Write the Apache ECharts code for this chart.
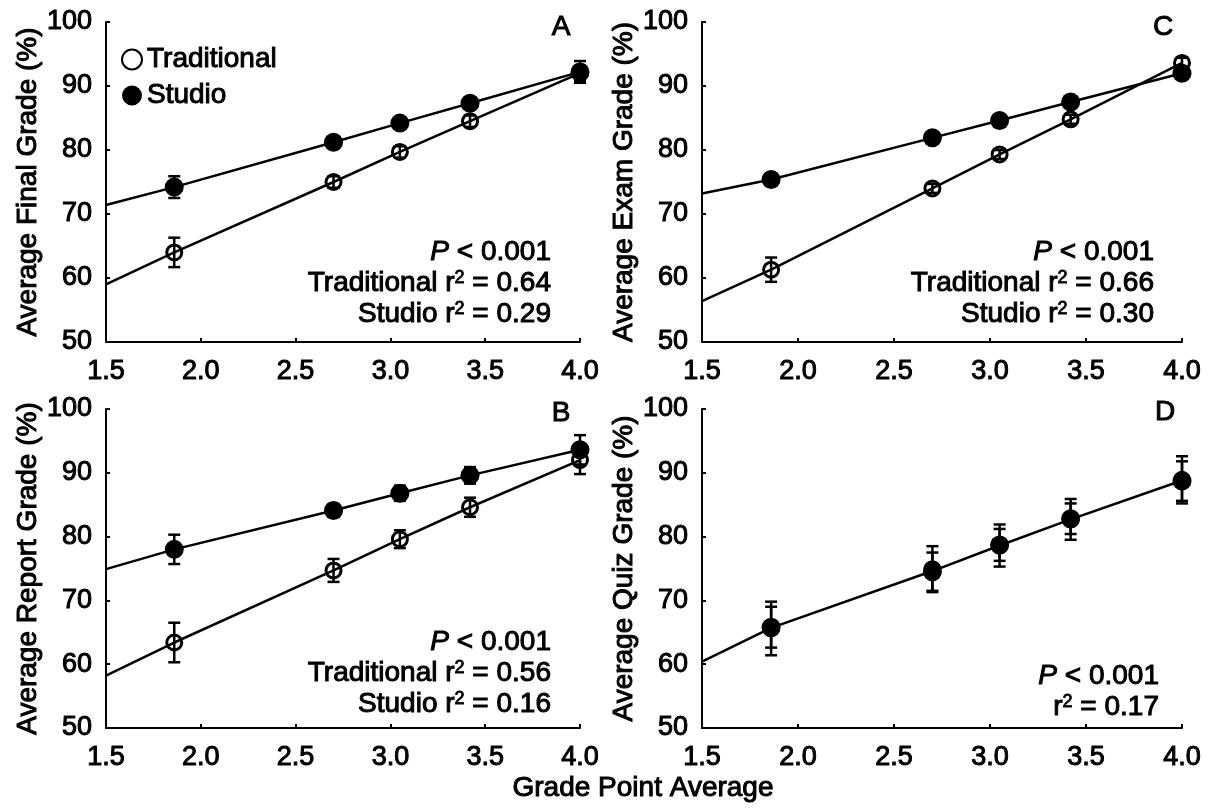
<!DOCTYPE html>
<html>
<head>
<meta charset="utf-8">
<script src="https://cdn.jsdelivr.net/npm/echarts@6/dist/echarts.min.js"></script>
<style>
  html, body { margin: 0; padding: 0; background: #fff; }
  #chart { width: 1217px; height: 809px; }
</style>
</head>
<body>
<div id="chart"></div>
<script>
// Grade point average groups (x positions of the group means)
const gpa = [1.86, 2.70, 3.05, 3.42, 4.00];
// Left end of the fitted lines
const fitStartGpa = 1.5;

// Panel A: final grade
const finalTrad = [64.0, 75.0, 79.7, 84.5, 92.0];
const finalTradErr = [2.3, 0.9, 0.9, 0.9, 1.2];
const finalStudio = [74.2, 81.2, 84.2, 87.3, 92.2];
const finalStudioErr = [1.7, 0.8, 0.8, 0.8, 1.7];
const finalTradStart = 59.0;
const finalStudioStart = 71.4;

// Panel C: exam grade
const examTrad = [61.3, 74.0, 79.3, 84.8, 93.6];
const examTradErr = [1.9, 0.7, 0.7, 0.7, 0.8];
const examStudio = [75.4, 81.9, 84.6, 87.5, 92.0];
const examStudioErr = [0.9, 0.8, 0.7, 0.7, 0.8];
const examTradStart = 56.4;
const examStudioStart = 73.2;

// Panel B: report grade
const reportTrad = [63.4, 74.7, 79.6, 84.6, 92.0];
const reportTradErr = [3.1, 1.8, 1.4, 1.5, 2.2];
const reportStudio = [78.0, 84.1, 86.8, 89.6, 93.6];
const reportStudioErr = [2.3, 1.0, 1.2, 1.3, 2.3];
const reportTradStart = 58.2;
const reportStudioStart = 74.9;

// Panel D: quiz grade (both groups share one fitted line)
const quizTrad = [65.6, 74.9, 78.6, 82.7, 88.9];
const quizTradErr = [4.2, 3.6, 3.3, 3.2, 3.7];
const quizStudio = [65.8, 74.5, 78.7, 82.8, 88.7];
const quizStudioErr = [3.2, 3.0, 2.5, 2.4, 3.1];
const quizFit = [60.4, 65.7, 74.6, 78.6, 82.7, 88.8];

// Axis ranges and tick spacing
const xMin = 1.5, xMax = 4.0, xStep = 0.5;
const yMin = 50, yMax = 100, yStep = 10;

// Panel captions
const panelLetters = ['A', 'C', 'B', 'D'];
const yTitles = ['Average Final Grade (%)', 'Average Exam Grade (%)',
                 'Average Report Grade (%)', 'Average Quiz Grade (%)'];
const xTitle = 'Grade Point Average';
const pText = '{i|P} < 0.001';
const statLines = [
  ['Traditional r{s|2} = 0.64', 'Studio r{s|2} = 0.29'],
  ['Traditional r{s|2} = 0.66', 'Studio r{s|2} = 0.30'],
  ['Traditional r{s|2} = 0.56', 'Studio r{s|2} = 0.16'],
  ['r{s|2} = 0.17']
];

const FONT = '"Liberation Sans", Arial, Helvetica, sans-serif';
const INK = '#000';
// thin outline that gives the lettering its heavy print look
const HEAVY = { textBorderColor: INK, textBorderWidth: 1 };

const grids = [
  { left: 106, top: 22, width: 474, height: 320 },
  { left: 702, top: 22, width: 480, height: 320 },
  { left: 106, top: 409, width: 474, height: 319 },
  { left: 702, top: 409, width: 480, height: 319 }
];

const panelData = [
  { trad: finalTrad, tradErr: finalTradErr, studio: finalStudio, studioErr: finalStudioErr,
    lines: [[finalTradStart].concat(finalTrad), [finalStudioStart].concat(finalStudio)] },
  { trad: examTrad, tradErr: examTradErr, studio: examStudio, studioErr: examStudioErr,
    lines: [[examTradStart].concat(examTrad), [examStudioStart].concat(examStudio)] },
  { trad: reportTrad, tradErr: reportTradErr, studio: reportStudio, studioErr: reportStudioErr,
    lines: [[reportTradStart].concat(reportTrad), [reportStudioStart].concat(reportStudio)] },
  { trad: quizTrad, tradErr: quizTradErr, studio: quizStudio, studioErr: quizStudioErr,
    lines: [quizFit] }
];

const lineX = [fitStartGpa].concat(gpa);
const pairs = (xs, ys) => xs.map((x, i) => [x, ys[i]]);
const bars = (ys, es) => gpa.map((x, i) => [x, ys[i] - es[i], ys[i] + es[i]]);

function errorBarItem(params, api) {
  const x = api.value(0);
  const top = api.coord([x, api.value(2)]);
  const bot = api.coord([x, api.value(1)]);
  const hw = 6;
  const style = { stroke: INK, lineWidth: 2.5 };
  return {
    type: 'group',
    children: [
      { type: 'line', shape: { x1: top[0], y1: top[1], x2: bot[0], y2: bot[1] }, style },
      { type: 'line', shape: { x1: top[0] - hw, y1: top[1], x2: top[0] + hw, y2: top[1] }, style },
      { type: 'line', shape: { x1: bot[0] - hw, y1: bot[1], x2: bot[0] + hw, y2: bot[1] }, style }
    ]
  };
}

const xAxes = grids.map((g, i) => ({
  gridIndex: i, type: 'value', min: xMin, max: xMax, interval: xStep,
  axisLine: { show: true, onZero: false, lineStyle: { color: INK, width: 2 } },
  axisTick: { show: true, inside: true, length: 4, lineStyle: { color: INK, width: 2 } },
  axisLabel: Object.assign({ color: INK, fontSize: 27, fontFamily: FONT, margin: 16,
               formatter: v => v.toFixed(1) }, HEAVY),
  splitLine: { show: false }
}));

const yAxes = grids.map((g, i) => ({
  gridIndex: i, type: 'value', min: yMin, max: yMax, interval: yStep,
  name: yTitles[i], nameLocation: 'middle', nameGap: 64,
  nameTextStyle: Object.assign({ color: INK, fontSize: 28, fontFamily: FONT }, HEAVY),
  axisLine: { show: true, onZero: false, lineStyle: { color: INK, width: 2 } },
  axisTick: { show: true, inside: true, length: 4, lineStyle: { color: INK, width: 2 } },
  axisLabel: Object.assign({ color: INK, fontSize: 27, fontFamily: FONT, margin: 14 }, HEAVY),
  splitLine: { show: false }
}));

const series = [];
panelData.forEach((p, i) => {
  p.lines.forEach((ys, k) => {
    series.push({
      type: 'line', name: 'fit' + i + '-' + k, xAxisIndex: i, yAxisIndex: i,
      data: pairs(lineX, ys), showSymbol: false, silent: true, z: 1,
      lineStyle: { color: INK, width: 2.5 }
    });
  });
  series.push({
    type: 'custom', name: 'errT' + i, xAxisIndex: i, yAxisIndex: i, z: 2,
    renderItem: errorBarItem, encode: { x: 0, y: [1, 2] },
    data: bars(p.trad, p.tradErr)
  });
  series.push({
    type: 'custom', name: 'errS' + i, xAxisIndex: i, yAxisIndex: i, z: 2,
    renderItem: errorBarItem, encode: { x: 0, y: [1, 2] },
    data: bars(p.studio, p.studioErr)
  });
  series.push({
    type: 'scatter', name: 'Traditional', xAxisIndex: i, yAxisIndex: i, z: 3,
    symbol: 'circle', symbolSize: 15,
    itemStyle: { color: 'rgba(0,0,0,0)', borderColor: INK, borderWidth: 3, opacity: 1 },
    data: pairs(gpa, p.trad)
  });
  series.push({
    type: 'scatter', name: 'Studio', xAxisIndex: i, yAxisIndex: i, z: 4,
    symbol: 'circle', symbolSize: 19,
    itemStyle: { color: INK, opacity: 1 },
    data: pairs(gpa, p.studio)
  });
});

// Panel captions, statistics and the shared x title
const graphic = [];
const letterPos = [[561, 27], [1163, 27], [561, 413], [1165, 412]];
const statRight = [551, 1154, 551, 1159];
const statTop = [252, 252, 642, 676];
const richStyles = {
  i: { fontStyle: 'italic', fontSize: 28, fontFamily: FONT, fill: INK, stroke: INK, lineWidth: 1 },
  s: { fontSize: 18, fontFamily: FONT, fill: INK, stroke: INK, lineWidth: 0.8,
       verticalAlign: 'top', lineHeight: 18 }
};
const textLook = { fill: INK, stroke: INK, lineWidth: 1, font: '28px ' + FONT };
panelLetters.forEach((L, i) => {
  graphic.push({
    type: 'text', x: letterPos[i][0], y: letterPos[i][1], silent: true,
    style: Object.assign({ text: L, align: 'center', verticalAlign: 'middle' }, textLook)
  });
  const rows = [pText].concat(statLines[i]);
  rows.forEach((t, r) => {
    graphic.push({
      type: 'text', x: statRight[i], y: statTop[i] + r * 31, silent: true,
      style: Object.assign({ text: t, align: 'right', verticalAlign: 'middle', rich: richStyles }, textLook)
    });
  });
});
graphic.push({
  type: 'text', x: 643, y: 788, silent: true,
  style: Object.assign({ text: xTitle, align: 'center', verticalAlign: 'middle' }, textLook)
});

const chart = echarts.init(document.getElementById('chart'), null, { renderer: 'canvas' });
chart.setOption({
  backgroundColor: '#fff',
  animation: false,
  textStyle: { fontFamily: FONT, color: INK },
  grid: grids,
  xAxis: xAxes,
  yAxis: yAxes,
  legend: {
    data: ['Traditional', 'Studio'], orient: 'vertical', left: 116, top: 40,
    itemWidth: 20, itemHeight: 20, itemGap: 7, selectedMode: false, icon: 'circle',
    textStyle: Object.assign({ color: INK, fontSize: 28, fontFamily: FONT, lineHeight: 20 }, HEAVY)
  },
  series,
  graphic
});
</script>
</body>
</html>
